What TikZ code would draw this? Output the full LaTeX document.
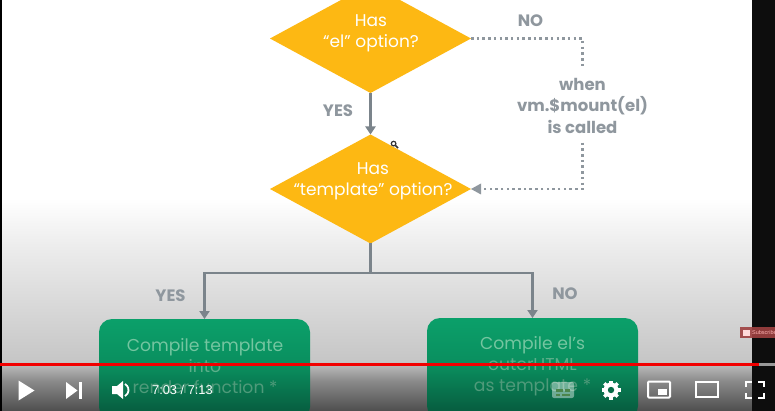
\documentclass[tikz,border=0pt]{standalone}
\usepackage{fontspec}
\setmainfont{Poppins}
\newfontfamily\uifont{Liberation Sans}
\usetikzlibrary{shapes.geometric,arrows.meta}
\definecolor{ambr}{HTML}{FDB813}
\definecolor{linegray}{HTML}{7B848B}
\definecolor{labelgray}{HTML}{8F979E}
\definecolor{boxtxtA}{HTML}{74C5A0}
\definecolor{boxtxtB}{HTML}{5CAF8A}
\definecolor{boxtxtC}{HTML}{4F9A7A}
\definecolor{bgA}{HTML}{FFFFFF}
\definecolor{bgB}{HTML}{EEEEEE}
\definecolor{bgC}{HTML}{DADADA}
\definecolor{bgD}{HTML}{C6C6C6}
\definecolor{bgE}{HTML}{8A8A8A}
\definecolor{bgF}{HTML}{4E4E4E}
\definecolor{grA}{HTML}{0BA06A}
\definecolor{grB}{HTML}{0A8E5E}
\definecolor{grC}{HTML}{075E40}
\definecolor{grD}{HTML}{054C33}
\pgfdeclareverticalshading{bgshade}{100bp}{color(0bp)=(bgF); color(25bp)=(bgF); color(28.65bp)=(bgE); color(31.08bp)=(bgD); color(38.38bp)=(bgC); color(45.5bp)=(bgB); color(50.9bp)=(bgA); color(100bp)=(bgA)}
\pgfdeclareverticalshading{boxshade}{100bp}{color(0bp)=(grD); color(25bp)=(grD); color(29.5bp)=(grC); color(51.7bp)=(grB); color(75bp)=(grA); color(100bp)=(grA)}
\tikzset{
  decision/.style={diamond,fill=ambr,inner sep=0pt,outer sep=0pt,aspect=1.84,minimum width=201pt,minimum height=109pt},
  outcome/.style={rectangle,rounded corners=13pt,shading=boxshade,inner sep=0pt,outer sep=0pt,minimum width=211pt,minimum height=101pt,anchor=north},
  dectext/.style={text=white,align=center,font=\fontsize{17}{21}\selectfont},
  boxtext/.style={align=center,font=\fontsize{17.2}{21}\selectfont},
  lab/.style={text=labelgray,align=center,font=\fontsize{16.5}{21.5}\selectfont\bfseries},
  flow/.style={draw=linegray,line width=2.4pt,-{Triangle[length=8pt,width=10pt]}},
  flowplain/.style={draw=linegray,line width=2.4pt},
  dots/.style={draw=labelgray,line width=2.4pt,dash pattern=on 2.5pt off 3.2pt},
  ctl/.style={fill=white,draw=none},
  ctlline/.style={draw=white,line width=2pt,fill=none}
}
\begin{document}
\begin{tikzpicture}[x=1pt,y=-1pt]
\useasboundingbox (0,0) rectangle (775,411);
\shade[shading=bgshade] (0,0) rectangle (775,411);
\fill[black] (0,0) rectangle (2,411);
\fill[black!95] (752,0) rectangle (775,411);
% flow nodes
\node[decision] (d1) at (370.5,38.5) {};
\node[decision] (d2) at (370.5,189) {};
\node[dectext] (t1) at (371,33.5) {Has\\“el” option?};
\node[dectext] (t2) at (373,181.5) {Has\\“template” option?};
\node[outcome] (b1) at (204.5,319) {};
\node[outcome] (b2) at (532.5,318) {};
\node[boxtext] (bt1) at (205,366) {\textcolor{boxtxtA}{Compile template}\\\textcolor{boxtxtB}{into}\\\textcolor{boxtxtC}{render function *}};
\node[boxtext] (bt2) at (532.5,366) {\textcolor{boxtxtA}{Compile el’s}\\\textcolor{boxtxtB}{outerHTML}\\\textcolor{boxtxtC}{as template *}};
\node[lab,inner sep=0pt,minimum height=74pt] (w) at (582.5,105.5) {when\\vm.\$mount(el)\\is called};
\node[lab] (no1) at (530.5,21) {NO};
\node[lab] (yes1) at (338,111) {YES};
\node[lab] (yes2) at (170.5,296) {YES};
\node[lab] (no2) at (565,294) {NO};
\coordinate (j) at (370.5,273);
% connectors
\draw[flow] (d1.south) -- (d2.north);
\draw[flowplain] (d2.south) -- (j);
\draw[flow] (j) -| (b1.north);
\draw[flow] (j) -| (b2.north);
\draw[dots] (d1.east) -| (w.north);
\draw[dots] (w.south) |- ([xshift=10pt]d2.east);
\fill[labelgray] (d2.east) -- ++(10,-5.5) -- ++(0,11) -- cycle;
% magnifier
\draw[black!80,line width=1.2pt] (393.6,143.6) circle (2.3);
\draw[black!80,line width=1.6pt] (395.5,145.5) -- (398,148);
% subscribe badge
\fill[red!50!black!75!white,opacity=.9] (740,327) rectangle (775,338);
\fill[white!85!red] (743,330) rectangle (750,335.5);
\node[inner sep=0pt,anchor=west,text=white!70!red,font=\uifont\fontsize{5.5}{6}\selectfont] (sub) at (752,332.5) {Subscribe};
% progress bar
\fill[gray!80] (759,363) rectangle (775,366);
\fill[red!95!black] (0,363) rectangle (759,366);
% player controls
\fill[ctl] (18.5,380.5) -- (34.5,390.5) -- (18.5,400.5) -- cycle;
\fill[ctl] (66,382) -- (77.5,390.5) -- (66,399) -- cycle;
\fill[ctl] (79,382) rectangle (82,399);
\fill[ctl] (112,386) -- (117,386) -- (123,381) -- (123,399) -- (117,394) -- (112,394) -- cycle;
\draw[ctlline,line width=1.8pt] (125,384) arc (-60:60:7);
\node[inner sep=0pt,anchor=west,text=white,font=\uifont\fontsize{12.8}{14}\selectfont] (time) at (152,390) {7:03 / 7:13};
% captions
\fill[white,opacity=.42,rounded corners=2pt] (552,382) rectangle (574,398);
\fill[black!45!green!40!gray] (556,389) rectangle (563,391.5);
\fill[black!45!green!40!gray] (565,389) rectangle (570,391.5);
\fill[black!45!green!40!gray] (556,393.5) rectangle (560,395.5);
\fill[black!45!green!40!gray] (562,393.5) rectangle (570,395.5);
% gear
\foreach \a in {0,45,...,315}{\draw[white,line width=3.4pt] (611,390) -- ++(\a:9.5);}
\fill[white] (611,390) circle (7.5);
\fill[grB!75!black] (611,390) circle (3.2);
% miniplayer, theatre, fullscreen
\draw[ctlline,rounded corners=1pt] (648,381.5) rectangle (670,397.5);
\fill[ctl] (658,388.5) rectangle (667,395);
\draw[ctlline] (696,382) rectangle (718,397);
\draw[ctlline,line width=2.4pt] (746,387) -- (746,382) -- (752,382);
\draw[ctlline,line width=2.4pt] (758,382) -- (764,382) -- (764,387);
\draw[ctlline,line width=2.4pt] (764,393) -- (764,398) -- (758,398);
\draw[ctlline,line width=2.4pt] (752,398) -- (746,398) -- (746,393);
\end{tikzpicture}
\end{document}
